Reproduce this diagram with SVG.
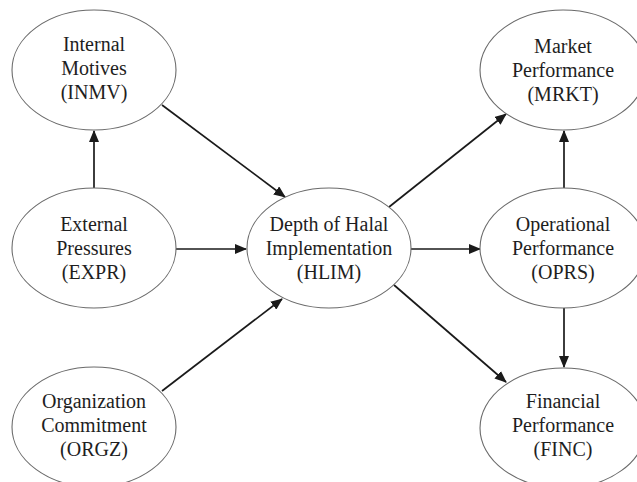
<svg xmlns="http://www.w3.org/2000/svg" width="637" height="482" viewBox="0 0 637 482">
<defs>
<style>
.node ellipse{fill:#fff;stroke:#6a6a6a;stroke-width:1.1}
.node text{font-family:"Liberation Serif","Times New Roman",serif;font-size:20px;fill:#1e1e1e;text-anchor:middle}
.conn line{stroke:#1a1a1a;stroke-width:1.7;marker-end:url(#ah)}
</style>
<marker id="ah" viewBox="0 0 12 10" refX="11" refY="5" markerWidth="12" markerHeight="10" markerUnits="userSpaceOnUse" orient="auto">
<path d="M0,0 L12,5 L0,10 z" fill="#1a1a1a"/>
</marker>
</defs>
<rect width="637" height="482" fill="#fff"/>
<g id="connectors" class="conn">
<line x1="94" y1="188" x2="94" y2="131"/>
<line x1="162" y1="105" x2="285" y2="197"/>
<line x1="176" y1="249" x2="246" y2="249"/>
<line x1="162" y1="391" x2="282" y2="299"/>
<line x1="389" y1="207" x2="506" y2="114"/>
<line x1="410" y1="249" x2="480" y2="249"/>
<line x1="394" y1="285" x2="506" y2="382"/>
<line x1="564" y1="188" x2="564" y2="131"/>
<line x1="564" y1="308" x2="564" y2="367"/>
</g>
<g id="INMV" class="node">
<ellipse cx="94" cy="70" rx="82" ry="60"/>
<text x="94" y="51">Internal</text>
<text x="94" y="75">Motives</text>
<text x="94" y="99">(INMV)</text>
</g>
<g id="EXPR" class="node">
<ellipse cx="94" cy="248" rx="82" ry="60"/>
<text x="94" y="231">External</text>
<text x="94" y="255">Pressures</text>
<text x="94" y="279">(EXPR)</text>
</g>
<g id="ORGZ" class="node">
<ellipse cx="94" cy="427" rx="82" ry="60"/>
<text x="94" y="408">Organization</text>
<text x="94" y="432">Commitment</text>
<text x="94" y="456">(ORGZ)</text>
</g>
<g id="HLIM" class="node">
<ellipse cx="329" cy="248" rx="82" ry="60"/>
<text x="329" y="231">Depth of Halal</text>
<text x="329" y="255">Implementation</text>
<text x="329" y="279">(HLIM)</text>
</g>
<g id="MRKT" class="node">
<ellipse cx="563" cy="70" rx="83" ry="60"/>
<text x="563" y="53">Market</text>
<text x="563" y="77">Performance</text>
<text x="563" y="101">(MRKT)</text>
</g>
<g id="OPRS" class="node">
<ellipse cx="563" cy="248" rx="83" ry="60"/>
<text x="563" y="231">Operational</text>
<text x="563" y="255">Performance</text>
<text x="563" y="279">(OPRS)</text>
</g>
<g id="FINC" class="node">
<ellipse cx="563" cy="428" rx="83" ry="60"/>
<text x="563" y="408">Financial</text>
<text x="563" y="432">Performance</text>
<text x="563" y="456">(FINC)</text>
</g>
</svg>
